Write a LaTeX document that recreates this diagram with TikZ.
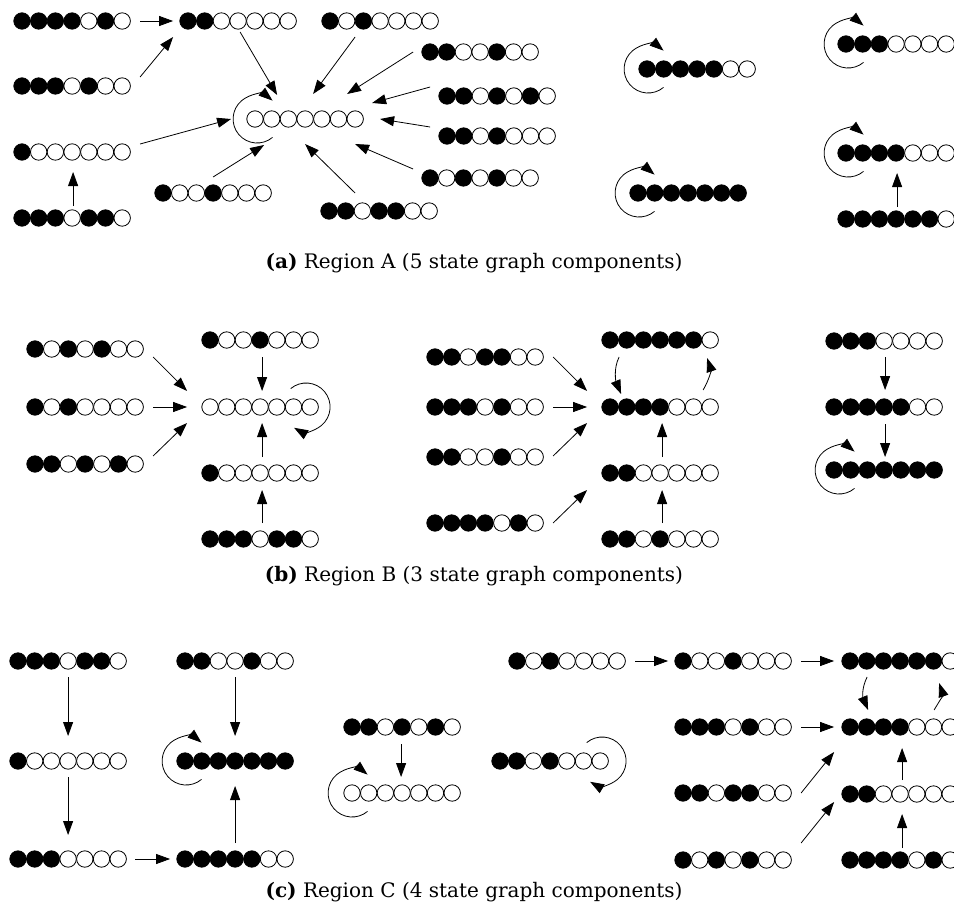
\documentclass[tikz,border=0pt]{standalone}
\usepackage{fontspec}
\newfontfamily\capfont{DejaVu Serif}
\usetikzlibrary{arrows.meta,calc}

\tikzset{
  bit0/.style={circle,draw,line width=0.8pt,fill=white,minimum size=16.4pt,inner sep=0pt},
  bit1/.style={circle,draw,line width=0.8pt,fill=black,minimum size=16.4pt,inner sep=0pt},
  rowbox/.style={rectangle,minimum width=117pt,minimum height=17pt,inner sep=0pt},
  arr/.style={line width=0.8pt,-{Triangle[length=14pt,width=10pt]}},
  caption/.style={font=\capfont\fontsize{20}{24}\selectfont,inner sep=0pt}
}

% a row of seven cells: name, x of first cell, y, pattern (1 = filled)
\newcommand\bitrow[4]{%
  \node[rowbox] (#1) at (#2+50.1,#3) {};
  \foreach \b [count=\i from 0] in {#4}
    \node[bit\b] at (#2+16.7*\i,#3) {};
}

\begin{document}
\begin{tikzpicture}[x=1pt,y=-1pt]
\useasboundingbox (0,0) rectangle (954,913);
\clip (0,0) rectangle (954,913);

% ---------------- Region A ----------------
\bitrow{A1}{22}{21}{1,1,1,1,0,1,0}
\bitrow{A2}{188}{21}{1,1,0,0,0,0,0}
\bitrow{A3}{22}{86}{1,1,1,0,1,0,0}
\bitrow{A4}{22}{152}{1,0,0,0,0,0,0}
\bitrow{A5}{22}{218}{1,1,1,0,1,1,0}
\bitrow{A6}{163}{193}{1,0,0,1,0,0,0}
\bitrow{A0}{255}{119}{0,0,0,0,0,0,0}
\bitrow{A7}{330}{21}{1,0,1,0,0,0,0}
\bitrow{A8}{430}{52}{1,1,0,0,1,0,0}
\bitrow{A9}{447}{96}{1,1,0,1,0,1,0}
\bitrow{A10}{447}{136}{1,1,0,1,0,0,0}
\bitrow{A11}{430}{178}{1,0,1,0,1,0,0}
\bitrow{A12}{329}{211}{1,1,0,1,1,0,0}
\bitrow{A13}{647}{69}{1,1,1,1,1,0,0}
\bitrow{A14}{638}{193}{1,1,1,1,1,1,1}
\bitrow{A15}{846}{44}{1,1,1,0,0,0,0}
\bitrow{A16}{846}{153}{1,1,1,1,0,0,0}
\bitrow{A17}{846}{219}{1,1,1,1,1,1,0}

\draw[arr] ($(A1)+(68,0)$) -- ($(A2)+(-65,0)$);
\draw[arr] ($(A3)+(68,-9)$) -- ($(A2)+(-65,16)$);
\draw[arr] ($(A4)+(68,-8)$) -- ($(A0)+(-74,0)$);
\draw[arr] ($(A5)+(1,-12)$) -- ($(A4)+(1,20)$);
\draw[arr] ($(A6)+(0,-16)$) -- ($(A0)+(-41,26)$);
\draw[arr] ($(A2)+(2,11)$) -- ($(A0)+(-28,-24)$);
\draw[arr] ($(A7)+(-25,16)$) -- ($(A0)+(8,-25)$);
\draw[arr] ($(A8)+(-67,0)$) -- ($(A0)+(42,-25)$);
\draw[arr] ($(A9)+(-67,-9)$) -- ($(A0)+(67,-16)$);
\draw[arr] ($(A10)+(-67,-9)$) -- ($(A0)+(75,0)$);
\draw[arr] ($(A11)+(-67,-9)$) -- ($(A0)+(50,25)$);
\draw[arr] ($(A12)+(-24,-18)$) -- ($(A0)+(0,25)$);
\draw[arr] ($(A17)+(1,-12)$) -- ($(A16)+(1,20)$);

\draw[arr] ($(A0)+(-48,0)+(50:24)$) arc[start angle=50,end angle=310,radius=24];
\draw[arr] ($(A13)+(-49,0)+(50:24)$) arc[start angle=50,end angle=310,radius=24];
\draw[arr] ($(A14)+(-49,0)+(50:24)$) arc[start angle=50,end angle=310,radius=24];
\draw[arr] ($(A15)+(-48,0)+(50:24)$) arc[start angle=50,end angle=310,radius=24];
\draw[arr] ($(A16)+(-48,0)+(50:24)$) arc[start angle=50,end angle=310,radius=24];

\node[caption] (capA) at (474,263) {\textbf{(a)} Region A (5 state graph components)};

% ---------------- Region B ----------------
\bitrow{B1}{35}{349}{1,0,1,0,1,0,0}
\bitrow{B2}{35}{407}{1,0,1,0,0,0,0}
\bitrow{B3}{35}{464}{1,1,0,1,0,1,0}
\bitrow{B4}{210}{340}{1,0,0,1,0,0,0}
\bitrow{B0}{210}{407}{0,0,0,0,0,0,0}
\bitrow{B5}{210}{473}{1,0,0,0,0,0,0}
\bitrow{B6}{210}{539}{1,1,1,0,1,1,0}
\bitrow{B7}{435}{357}{1,1,0,1,1,0,0}
\bitrow{B8}{435}{407}{1,1,1,0,1,0,0}
\bitrow{B9}{435}{457}{1,1,0,0,1,0,0}
\bitrow{B10}{435}{523}{1,1,1,1,0,1,0}
\bitrow{B11}{610}{340}{1,1,1,1,1,1,0}
\bitrow{B12}{610}{407}{1,1,1,1,0,0,0}
\bitrow{B13}{610}{473}{1,1,0,0,0,0,0}
\bitrow{B14}{610}{539}{1,1,0,1,0,0,0}
\bitrow{B15}{834}{341}{1,1,1,0,0,0,0}
\bitrow{B16}{834}{407}{1,1,1,1,1,0,0}
\bitrow{B17}{834}{470}{1,1,1,1,1,1,1}

\draw[arr] ($(B1)+(68,8)$) -- ($(B0)+(-73,-16)$);
\draw[arr] ($(B2)+(68,0)$) -- ($(B0)+(-73,0)$);
\draw[arr] ($(B3)+(68,-8)$) -- ($(B0)+(-73,16)$);
\draw[arr] ($(B4)+(2,17)$) -- ($(B0)+(2,-16)$);
\draw[arr] ($(B5)+(2,-16)$) -- ($(B0)+(2,16)$);
\draw[arr] ($(B6)+(2,-16)$) -- ($(B5)+(2,17)$);
\draw[arr] ($(B0)+(46,0)+(-130:24)$) arc[start angle=-130,end angle=120,radius=24];

\draw[arr] ($(B7)+(68,0)$) -- ($(B12)+(-73,-16)$);
\draw[arr] ($(B8)+(68,0)$) -- ($(B12)+(-73,0)$);
\draw[arr] ($(B9)+(68,-1)$) -- ($(B12)+(-73,16)$);
\draw[arr] ($(B10)+(68,0)$) -- ($(B13)+(-73,17)$);
\draw[arr] ($(B13)+(2,-16)$) -- ($(B12)+(2,16)$);
\draw[arr] ($(B14)+(2,-16)$) -- ($(B13)+(2,17)$);
\draw[arr] ($(B11)+(-41,17)$) .. controls +(-6,12) and +(-5,-12) .. ($(B12)+(-39,-13)$);
\draw[arr] ($(B12)+(43,-17)$) .. controls +(6,-10) and +(4,12) .. ($(B11)+(47,18)$);

\draw[arr] ($(B15)+(1,16)$) -- ($(B16)+(1,-17)$);
\draw[arr] ($(B16)+(1,17)$) -- ($(B17)+(1,-13)$);
\draw[arr] ($(B17)+(-45,0)+(50:24)$) arc[start angle=50,end angle=310,radius=24];

\node[caption] (capB) at (474,576) {\textbf{(b)} Region B (3 state graph components)};

% ---------------- Region C ----------------
\bitrow{C1}{18}{661}{1,1,1,0,1,1,0}
\bitrow{C2}{18}{761}{1,0,0,0,0,0,0}
\bitrow{C3}{18}{859}{1,1,1,0,0,0,0}
\bitrow{C4}{185}{661}{1,1,0,0,1,0,0}
\bitrow{C5}{185}{761}{1,1,1,1,1,1,1}
\bitrow{C6}{185}{859}{1,1,1,1,1,0,0}
\bitrow{C7}{352}{727}{1,1,0,1,0,1,0}
\bitrow{C8}{352}{793}{0,0,0,0,0,0,0}
\bitrow{C9}{500}{761}{1,1,0,1,0,0,0}
\bitrow{C10}{517}{661}{1,0,1,0,0,0,0}
\bitrow{C11}{683}{661}{1,0,0,1,0,0,0}
\bitrow{C12}{850}{661}{1,1,1,1,1,1,0}
\bitrow{C13}{683}{727}{1,1,1,0,1,0,0}
\bitrow{C14}{850}{727}{1,1,1,1,0,0,0}
\bitrow{C15}{683}{793}{1,1,0,1,1,0,0}
\bitrow{C16}{850}{794}{1,1,0,0,0,0,0}
\bitrow{C17}{683}{860}{1,0,1,0,1,0,0}
\bitrow{C18}{850}{860}{1,1,1,1,0,1,0}

\draw[arr] ($(C1)+(0,16)$) -- ($(C2)+(0,-25)$);
\draw[arr] ($(C2)+(0,16)$) -- ($(C3)+(0,-24)$);
\draw[arr] ($(C3)+(67,0)$) -- ($(C6)+(-65,0)$);
\draw[arr] ($(C4)+(0,16)$) -- ($(C5)+(0,-25)$);
\draw[arr] ($(C6)+(0,-16)$) -- ($(C5)+(0,25)$);
\draw[arr] ($(C5)+(-49,0)+(50:24)$) arc[start angle=50,end angle=310,radius=24];

\draw[arr] ($(C7)+(-1,17)$) -- ($(C8)+(-1,-16)$);
\draw[arr] ($(C8)+(-50,0)+(50:24)$) arc[start angle=50,end angle=310,radius=24];

\draw[arr] ($(C9)+(52,0)+(-130:24)$) arc[start angle=-130,end angle=120,radius=24];

\draw[arr] ($(C10)+(68,0)$) -- ($(C11)+(-65,0)$);
\draw[arr] ($(C11)+(68,0)$) -- ($(C12)+(-66,0)$);
\draw[arr] ($(C13)+(68,0)$) -- ($(C14)+(-66,0)$);
\draw[arr] ($(C15)+(68,0)$) -- ($(C14)+(-66,25)$);
\draw[arr] ($(C17)+(68,-17)$) -- ($(C16)+(-66,8)$);
\draw[arr] ($(C16)+(2,-14)$) -- ($(C14)+(2,21)$);
\draw[arr] ($(C18)+(2,-12)$) -- ($(C16)+(2,20)$);
\draw[arr] ($(C12)+(-33,16)$) .. controls +(-6,12) and +(-5,-12) .. ($(C14)+(-32,-17)$);
\draw[arr] ($(C14)+(34,-17)$) .. controls +(6,-10) and +(4,12) .. ($(C12)+(39,22)$);

\node[caption] (capC) at (474,892) {\textbf{(c)} Region C (4 state graph components)};
\end{tikzpicture}
\end{document}
